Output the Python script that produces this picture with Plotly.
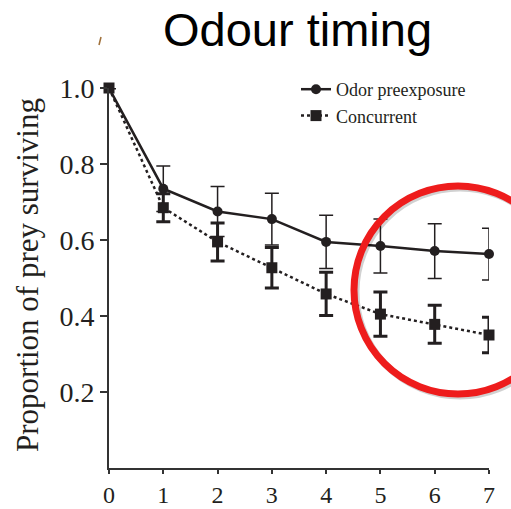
import plotly.graph_objects as go

days = [0, 1, 2, 3, 4, 5, 6, 7]
odor = [1.0, 0.735, 0.675, 0.655, 0.595, 0.584, 0.571, 0.563]
odor_err = [0, 0.06, 0.066, 0.068, 0.07, 0.071, 0.072, 0.068]
conc = [1.0, 0.685, 0.595, 0.527, 0.458, 0.405, 0.378, 0.35]
conc_err = [0, 0.037, 0.05, 0.053, 0.057, 0.058, 0.05, 0.047]
y_ticks = [0.2, 0.4, 0.6, 0.8, 1.0]
y_tick_text = ["0.2", "0.4", "0.6", "0.8", "1.0"]

ink = "#231f20"
serif = "Liberation Serif, Times New Roman, serif"

fig = go.Figure()
fig.add_trace(go.Scatter(
    x=days, y=odor, name="Odor preexposure", mode="lines+markers",
    line=dict(color=ink, width=2.5),
    marker=dict(symbol="circle", size=10, color=ink),
    error_y=dict(type="data", array=odor_err, color=ink, thickness=1.5, width=7),
    cliponaxis=False,
))
fig.add_trace(go.Scatter(
    x=days, y=conc, name="Concurrent", mode="lines+markers",
    line=dict(color=ink, width=2.5, dash="dot"),
    marker=dict(symbol="square", size=11, color=ink),
    error_y=dict(type="data", array=conc_err, color=ink, thickness=3, width=7),
    cliponaxis=False,
))

W, H = 511, 509
L, R, T, B = 109, 22, 88, 41

def px(x):
    return (x - L) / (W - L - R)

def py(y):
    return (H - B - y) / (H - T - B)

fig.update_layout(
    width=W, height=H,
    margin=dict(l=L, r=R, t=T, b=B, autoexpand=False),
    paper_bgcolor="white", plot_bgcolor="white",
    showlegend=True,
    legend=dict(
        x=px(296), y=py(71), xanchor="left", yanchor="top",
        font=dict(family=serif, size=18, color=ink),
        bgcolor="rgba(0,0,0,0)", tracegroupgap=0, itemwidth=30,
    ),
    xaxis=dict(
        range=[0, 7], tickvals=days, ticktext=[str(d) for d in days],
        showline=True, linecolor="#333", linewidth=2, showgrid=False, zeroline=False,
        ticks="outside", ticklen=4, tickwidth=2, tickcolor="#333",
        tickfont=dict(family=serif, size=24, color=ink),
    ),
    yaxis=dict(
        range=[0, 1.0], tickvals=y_ticks, ticktext=y_tick_text,
        showline=True, linecolor="#333", linewidth=2, showgrid=False, zeroline=False,
        ticks="outside", ticklen=7, tickwidth=2, tickcolor="#333",
        tickfont=dict(family=serif, size=28, color=ink),
    ),
    annotations=[
        dict(text="Odour timing", x=px(297), y=py(30), xref="paper", yref="paper",
             xanchor="center", yanchor="middle", showarrow=False,
             font=dict(family="Liberation Sans, Arial, sans-serif", size=47, color="black")),
        dict(text="Proportion of prey surviving", x=px(27), y=py(275), xref="paper", yref="paper",
             xanchor="center", yanchor="middle", showarrow=False, textangle=-90,
             font=dict(family=serif, size=31, color=ink)),
    ],
    shapes=[
        dict(type="circle", xref="paper", yref="paper",
             x0=px(356), x1=px(564), y0=py(396), y1=py(188),
             line=dict(color="rgba(0,0,0,0.18)", width=7)),
        dict(type="circle", xref="paper", yref="paper",
             x0=px(354), x1=px(562), y0=py(394), y1=py(186),
             line=dict(color="#ee1c1c", width=7)),
        dict(type="line", xref="paper", yref="paper",
             x0=px(99), x1=px(101), y0=py(45), y1=py(37),
             line=dict(color="#a0703a", width=1.5)),
    ],
)

fig.write_html("out.html")
